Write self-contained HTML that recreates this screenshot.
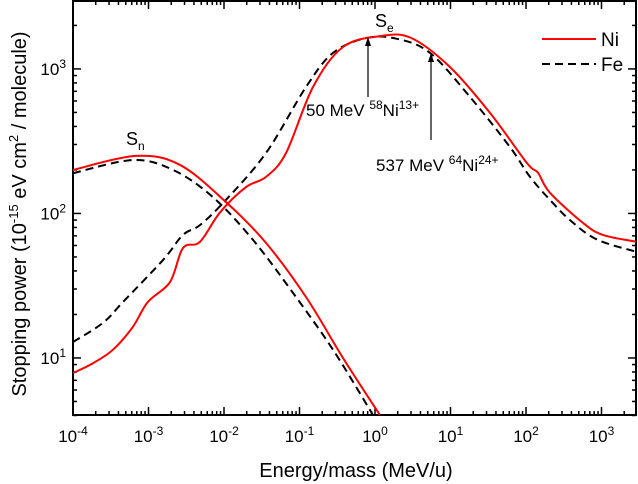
<!DOCTYPE html>
<html><head><meta charset="utf-8"><style>
html,body{margin:0;padding:0;background:#fff;}
svg{display:block;font-family:"Liberation Sans",Arial,sans-serif;}
</style></head><body>
<svg id="chart" width="638" height="484" viewBox="0 0 638 484">
<g id="grid"></g>
<g id="series"></g>
<g id="annot">
  <text x="375" y="27" font-size="18">S<tspan font-size="12" dy="5">e</tspan></text>
  <text x="126" y="145" font-size="18">S<tspan font-size="12" dy="5">n</tspan></text>
  <line x1="368" y1="97" x2="368" y2="42" stroke="#000" stroke-width="1.2"/>
  <polygon points="368,37 365,46 371,46" fill="#000"/>
  <line x1="431" y1="140" x2="431" y2="58" stroke="#000" stroke-width="1.2"/>
  <polygon points="431,53 428,62 434,62" fill="#000"/>
  <text x="306" y="116" font-size="17">50 MeV <tspan font-size="12" dy="-7">58</tspan><tspan dy="7">Ni</tspan><tspan font-size="12" dy="-7">13+</tspan></text>
  <text x="376" y="171" font-size="17">537 MeV <tspan font-size="12" dy="-7">64</tspan><tspan dy="7">Ni</tspan><tspan font-size="12" dy="-7">24+</tspan></text>
</g>
<g>
  <line x1="542" y1="39" x2="596" y2="39" stroke="#f00" stroke-width="2"/>
  <text x="601" y="46" font-size="19">Ni</text>
  <line x1="542" y1="64" x2="596" y2="64" stroke="#000" stroke-width="2" stroke-dasharray="8,5"/>
  <text x="601" y="71" font-size="19">Fe</text>
</g>
<text x="356" y="477" font-size="20" text-anchor="middle">Energy/mass (MeV/u)</text>
<text transform="translate(26,214) rotate(-90)" font-size="20" text-anchor="middle">Stopping power (10<tspan font-size="13" dy="-8">-15</tspan><tspan dy="8"> eV cm</tspan><tspan font-size="13" dy="-8">2</tspan><tspan dy="8"> / molecule)</tspan></text>
</svg>
<script>
const niSnE = [1e-4, 6.8e-4, 2.6e-3, 0.0106, 0.036, 0.122, 0.377, 1.16];
const niSnS = [200, 250, 217, 120, 62.5, 26.4, 10.0, 4.03];
const feSnE = [1e-4, 6.2e-4, 2.11e-3, 7.1e-3, 0.0242, 0.082, 0.278, 0.94];
const feSnS = [190, 234, 200, 130, 65.6, 28.2, 11.4, 4.03];
const niSeE = [1e-4, 1.84e-4, 3.39e-4, 6.2e-4, 9.8e-4, 1.93e-3, 2.86e-3, 4.8e-3, 8.9e-3, 0.0195, 0.036, 0.0663, 0.151, 0.377, 1.2, 3, 9.8, 33.3, 103, 144, 208, 569, 1047, 3000];
const niSeS = [7.87, 9.2, 11.4, 16.4, 24.4, 33.6, 57.7, 63.5, 102, 152, 179, 262, 750, 1419, 1690, 1640, 1032, 497, 223, 191, 139, 86, 71, 63.5];
const feSeE = [1e-4, 2.5e-4, 4.6e-4, 1.56e-3, 2.86e-3, 4.8e-3, 0.0106, 0.036, 0.122, 0.278, 0.78, 1.95, 5.35, 18.1, 61.4, 113, 208, 383, 871, 3000];
const feSeS = [12.9, 17.5, 24.4, 47.7, 71, 83, 124, 262, 750, 1291, 1640, 1615, 1291, 640, 288, 179, 124, 90, 66, 54];
const xTicks = [-4,-3,-2,-1,0,1,2,3];
const yTicks = [1,2,3];
const L=73,R=636,T=1,B=415, xMin=-4, xMax=3.457, yMin=Math.log10(4.03), yMax=3.47;
const sx = v => L + (Math.log10(v)-xMin)/(xMax-xMin)*(R-L);
const sy = v => B - (Math.log10(v)-yMin)/(yMax-yMin)*(B-T);
const NS='http://www.w3.org/2000/svg';
function mk(tag, attrs, parent){const e=document.createElementNS(NS,tag);for(const k in attrs)e.setAttribute(k,attrs[k]);parent.appendChild(e);return e;}
const grid=document.getElementById('grid'), ser=document.getElementById('series');
function path(E,S){
  const p=E.map((e,i)=>[sx(e),sy(S[i])]);
  let d='M'+p[0][0].toFixed(1)+','+p[0][1].toFixed(1);
  for(let i=0;i<p.length-1;i++){
    const p0=p[Math.max(0,i-1)],p1=p[i],p2=p[i+1],p3=p[Math.min(p.length-1,i+2)];
    const c1=[p1[0]+(p2[0]-p0[0])/6,p1[1]+(p2[1]-p0[1])/6];
    const c2=[p2[0]-(p3[0]-p1[0])/6,p2[1]-(p3[1]-p1[1])/6];
    d+=' C'+c1.map(v=>v.toFixed(1))+' '+c2.map(v=>v.toFixed(1))+' '+p2[0].toFixed(1)+','+p2[1].toFixed(1);
  }
  return d;
}
const clip=mk('clipPath',{id:'cp'},mk('defs',{},ser));
mk('rect',{x:L,y:T,width:R-L,height:B-T},clip);
const g=mk('g',{'clip-path':'url(#cp)'},ser);
let el;
el=mk('path',{d:path(feSnE,feSnS),fill:'none',stroke:'#000','stroke-width':2,'stroke-dasharray':'8,5'},g);


el=mk('path',{d:path(feSeE,feSeS),fill:'none',stroke:'#000','stroke-width':2,'stroke-dasharray':'8,5'},g);


el=mk('path',{d:path(niSnE,niSnS),fill:'none',stroke:'#f00','stroke-width':2},g);


el=mk('path',{d:path(niSeE,niSeS),fill:'none',stroke:'#f00','stroke-width':2},g);


el=mk('rect',{x:L,y:T,width:R-L,height:B-T,fill:'none',stroke:'#000','stroke-width':2},grid);


for(let d=-4; d<=3; d++){
  for(let m=1;m<10;m++){
    const v=m*Math.pow(10,d), x=sx(v);
    if(x>R+0.5) continue;
    const len=m===1?8:4;
    mk('line',{x1:x,y1:B,x2:x,y2:B-len,stroke:'#000','stroke-width':1.5},grid);
    mk('line',{x1:x,y1:T,x2:x,y2:T+len,stroke:'#000','stroke-width':1.5},grid);
  }
}
xTicks.forEach(d=>{
  const t=mk('text',{x:sx(Math.pow(10,d)),y:442,'font-size':17,'text-anchor':'middle'},grid);
  t.innerHTML='10<tspan font-size="12" dy="-7">'+d+'</tspan>';
  
  
});
for(let d=0; d<=3; d++){
  for(let m=1;m<10;m++){
    const v=m*Math.pow(10,d), y=sy(v);
    if(y<T-0.5||y>B+0.5) continue;
    const len=m===1?8:4;
    mk('line',{x1:L,y1:y,x2:L+len,y2:y,stroke:'#000','stroke-width':1.5},grid);
    mk('line',{x1:R,y1:y,x2:R-len,y2:y,stroke:'#000','stroke-width':1.5},grid);
  }
}
yTicks.forEach(d=>{
  const t=mk('text',{x:66,y:sy(Math.pow(10,d))+6,'font-size':17,'text-anchor':'end'},grid);
  t.innerHTML='10<tspan font-size="12" dy="-7">'+d+'</tspan>';
  
  
});
</script>
</body></html>
